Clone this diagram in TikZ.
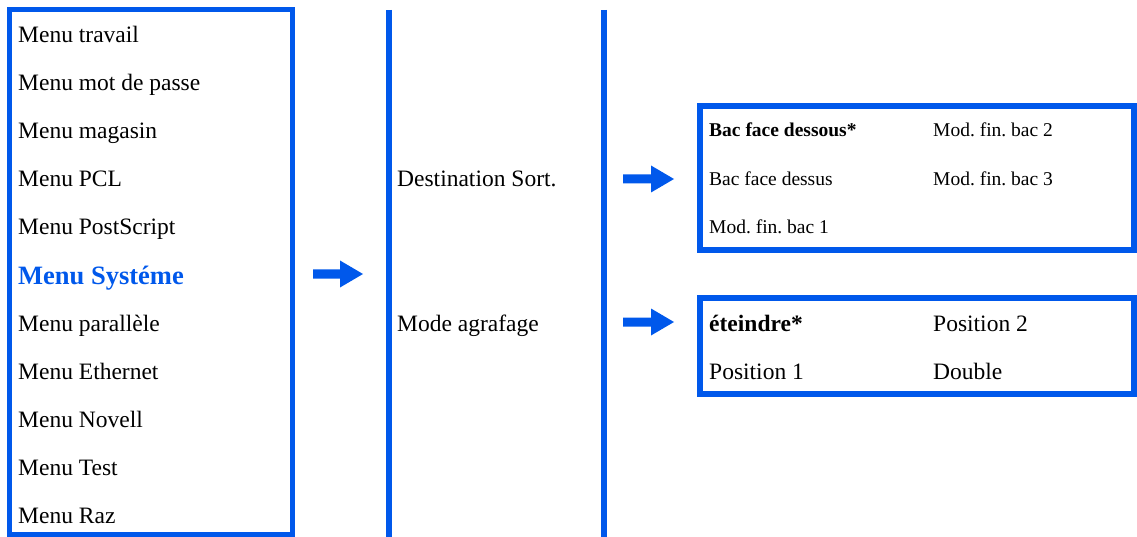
\documentclass[tikz,border=0pt]{standalone}
\usepackage{fontspec}
\setmainfont{Liberation Serif}
\definecolor{mblue}{RGB}{0,88,235}
\frenchspacing
\begin{document}
\begin{tikzpicture}[x=1pt,y=-1pt,
  frame/.style={draw=mblue,line width=5.5pt},
  item/.style={anchor=base west,inner sep=0pt,font=\fontsize{23.5}{28}\selectfont},
  small/.style={anchor=base west,inner sep=0pt,font=\fontsize{19.5}{24}\selectfont},
  head/.style={anchor=base west,inner sep=0pt,text=mblue,font=\fontsize{26.5}{32}\selectfont\bfseries},
  arr/.style={fill=mblue,draw=none}]
\useasboundingbox (0,0) rectangle (1137,537);
% frames
\draw[frame] (9.5,9.5) rectangle (292.5,534.5);
\coordinate (v1t) at (389,10); \coordinate (v1b) at (389,537);
\coordinate (v2t) at (604,10); \coordinate (v2b) at (604,537);
\draw[frame] (v1t) -- (v1b);
\draw[frame] (v2t) -- (v2b);
\draw[frame] (700,106) rectangle (1134,250);
\draw[frame] (700,298) rectangle (1134,394);
% left menu
\node[item] (m1) at (18,43) {Menu travail};
\node[item] (m2) at (18,91) {Menu mot de passe};
\node[item] (m3) at (18,139) {Menu magasin};
\node[item] (m4) at (18,187) {Menu PCL};
\node[item] (m5) at (18,235) {Menu PostScript};
\node[head] (m6) at (18,284) {Menu Systéme};
\node[item] (m7) at (18,331) {Menu parallèle};
\node[item] (m8) at (18,379) {Menu Ethernet};
\node[item] (m9) at (18,427) {Menu Novell};
\node[item] (m10) at (18,475) {Menu Test};
\node[item] (m11) at (18,523) {Menu Raz};
% middle
\node[item] (d1) at (397,187) {Destination Sort.};
\node[item] (d2) at (397,331) {Mode agrafage};
% box 1
\node[small,font=\fontsize{19.5}{24}\selectfont\bfseries] (b1) at (709,137) {Bac face dessous*};
\node[small] (b2) at (709,185.5) {Bac face dessus};
\node[small] (b3) at (709,233.5) {Mod. fin. bac 1};
\node[small] (b4) at (933,137) {Mod. fin. bac 2};
\node[small] (b5) at (933,185.5) {Mod. fin. bac 3};
% box 2
\node[item,font=\fontsize{23.5}{28}\selectfont\bfseries] (c1) at (709,331) {éteindre*};
\node[item] (c2) at (709,379) {Position 1};
\node[item] (c3) at (933,331) {Position 2};
\node[item] (c4) at (933,379) {Double};
% arrows
\fill[arr] (313,269.5) -- (340,269.5) -- (340,260.5) -- (363,274) -- (340,287.5) -- (340,278.5) -- (313,278.5) -- cycle;
\fill[arr] (623,174.5) -- (651,174.5) -- (651,165.5) -- (674,179) -- (651,192.5) -- (651,183.5) -- (623,183.5) -- cycle;
\fill[arr] (623,317.5) -- (651,317.5) -- (651,308.5) -- (674,322) -- (651,335.5) -- (651,326.5) -- (623,326.5) -- cycle;
\end{tikzpicture}
\end{document}
